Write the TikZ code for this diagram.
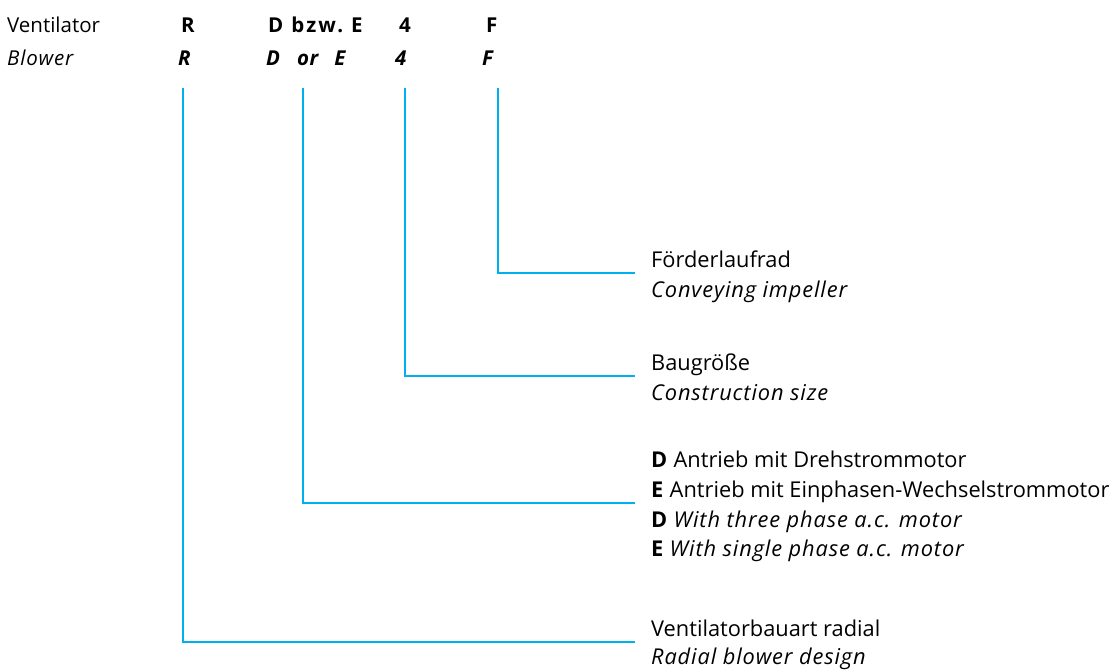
\documentclass[tikz,border=0pt]{standalone}
\usepackage{fontspec}
\setmainfont{Open Sans}[ItalicFeatures={LetterSpace=4}, BoldFeatures={LetterSpace=3}, BoldItalicFeatures={LetterSpace=3}]
\definecolor{lineblue}{RGB}{0,175,239}
\begin{document}
\begin{tikzpicture}[x=1pt,y=-1pt,
  txt/.style={anchor=base west, inner sep=0pt, font=\fontsize{20.5}{24}\selectfont},
  lab/.style={anchor=base west, inner sep=0pt, font=\fontsize{21.8}{24}\selectfont},
  conn/.style={draw=lineblue, line width=2.3pt}]
\useasboundingbox (0,0) rectangle (1116,670);
% header
\node[txt] (v1) at (7,32.5) {Ventilator};
\node[txt] (v2) at (7,65) {\itshape Blower};
\node[txt] (cR1) at (181,32.5) {\bfseries R};
\node[txt] (cD1) at (268,32.5) {\bfseries D\hspace{2pt} b\kern2pt z\kern2pt w\kern1.5pt. E};
\node[txt] (c41) at (399,32.5) {\bfseries 4};
\node[txt] (cF1) at (486,32.5) {\bfseries F};
\node[txt] (cR2) at (178,65) {\bfseries\itshape R};
\node[txt] (cD2) at (266,65) {\bfseries\itshape D\hspace{17pt}or\hspace{16pt}E};
\node[txt] (c42) at (395,65) {\bfseries\itshape 4};
\node[txt] (cF2) at (482,65) {\bfseries\itshape F};
% line tops
\coordinate (tR) at (183,88);
\coordinate (tD) at (303,88);
\coordinate (t4) at (405,88);
\coordinate (tF) at (498,88);
% labels
\node[lab] (lF1) at (651,267) {Förderlaufrad};
\node[lab] (lF2) at (651,297) {\itshape Conveying impeller};
\node[lab] (l41) at (651,370) {Baugröße};
\node[lab] (l42) at (651,400) {\itshape Construction size};
\node[lab] (lD1) at (651,467) {\textbf{D} Antrieb mit Drehstrommotor};
\node[lab] (lD2) at (651,497) {\textbf{E} Antrieb mit Einphasen-Wechselstrommotor};
\node[lab] (lD3) at (651,527) {\textbf{D} \textit{With three phase a.c. motor}};
\node[lab] (lD4) at (651,556) {\textbf{E} \textit{With single phase a.c. motor}};
\node[lab] (lR1) at (651,636) {Ventilatorbauart radial};
\node[lab] (lR2) at (651,664) {\itshape Radial blower design};
% connectors
\draw[conn] (tF) |- ([xshift=-16pt,yshift=-6pt]lF1.base west);
\draw[conn] (t4) |- ([xshift=-16pt,yshift=-6pt]l41.base west);
\draw[conn] (tD) |- ([xshift=-16pt,yshift=-6pt]lD2.base west);
\draw[conn] (tR) |- ([xshift=-16pt,yshift=-6pt]lR1.base west);
\end{tikzpicture}
\end{document}
